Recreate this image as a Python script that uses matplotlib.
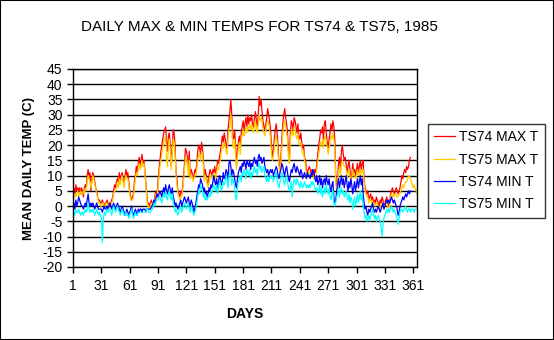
import numpy as np
import matplotlib
matplotlib.use('Agg')
import matplotlib.pyplot as plt
from matplotlib.patches import Rectangle

plt.rcParams['font.family'] = ['Liberation Sans', 'DejaVu Sans']
plt.rcParams['axes.unicode_minus'] = False

# Daily values (deg C)
ts74_max = [
    5, 6, 4, 7, 5, 6, 5, 6, 4, 6,
    5, 3, 6, 7, 6, 10, 12, 9, 11, 5,
    9, 11, 10, 8, 6, 5, 3, 2, 2, 1,
    1, 2, 1, 0, 1, 1, 2, 1, 0, 1,
    1, 2, 3, 5, 7, 6, 8, 9, 7, 11,
    8, 10, 11, 9, 7, 10, 12, 10, 11, 8,
    5, 3, 2, 3, 4, 8, 10, 13, 11, 14,
    16, 13, 15, 17, 14, 15, 12, 8, 4, 1,
    1, 0, 1, 2, 0, 1, 2, 4, 5, 3,
    8, 12, 15, 18, 20, 22, 24, 25, 26, 21,
    18, 23, 24, 20, 13, 19, 25, 24, 20, 11,
    9, 5, 4, 3, 5, 4, 6, 10, 14, 19,
    18, 16, 12, 18, 10, 12, 11, 9, 10, 12,
    11, 14, 18, 20, 19, 17, 21, 19, 15, 9,
    12, 10, 8, 7, 10, 12, 11, 10, 12, 11,
    13, 10, 12, 15, 14, 16, 18, 20, 23, 21,
    24, 22, 20, 19, 25, 28, 31, 35, 30, 23,
    22, 25, 20, 13, 18, 21, 23, 19, 24, 26,
    28, 25, 27, 29, 26, 30, 27, 29, 28, 30,
    27, 26, 29, 31, 28, 26, 30, 36, 33, 35,
    31, 28, 26, 25, 27, 29, 32, 30, 28, 25,
    20, 16, 18, 22, 25, 27, 24, 19, 14, 12,
    16, 22, 27, 30, 32, 29, 27, 24, 18, 15,
    24, 28, 27, 25, 29, 28, 26, 24, 27, 23,
    22, 24, 21, 19, 20, 16, 15, 12, 11, 12,
    13, 12, 11, 12, 11, 10, 12, 11, 14, 17,
    20, 22, 25, 24, 26, 22, 27, 28, 24, 21,
    19, 22, 24, 27, 25, 28, 26, 22, 10, 6,
    8, 14, 16, 12, 18, 20, 17, 15, 16, 14,
    11, 13, 15, 12, 9, 10, 14, 11, 12, 10,
    12, 14, 11, 13, 15, 12, 14, 15, 9, 6,
    5, 4, 5, 2, 3, 4, 2, 3, 1, 2,
    1, 3, 2, 1, 0, 2, 1, 3, 2, 0,
    1, 2, 3, 1, 0, 1, 4, 5, 6, 5,
    4, 5, 6, 5, 4, 5, 6, 8, 10, 9,
    11, 12, 11, 13, 12, 13, 15, 16,
]

ts75_max = [
    2, 3, 4, 3, 4, 5, 3, 4, 5, 4,
    4, 5, 4, 6, 5, 8, 10, 9, 8, 6,
    8, 10, 9, 7, 6, 4, 3, 1, 1, 0,
    0, 1, 1, 0, 0, 1, 1, 0, 0, 1,
    0, 1, 2, 4, 5, 5, 6, 8, 6, 9,
    7, 9, 10, 8, 6, 9, 10, 9, 9, 7,
    4, 2, 2, 2, 3, 6, 9, 11, 10, 12,
    14, 12, 13, 15, 13, 14, 11, 7, 3, 0,
    0, -1, 0, 1, 0, 0, 1, 3, 4, 3,
    6, 10, 13, 15, 17, 19, 21, 22, 23, 15,
    13, 20, 22, 18, 12, 17, 22, 21, 17, 10,
    7, 4, 3, 2, 3, 3, 5, 8, 12, 16,
    16, 14, 10, 15, 9, 10, 10, 8, 9, 10,
    10, 12, 15, 17, 17, 15, 18, 17, 13, 8,
    10, 9, 7, 6, 8, 10, 10, 9, 10, 10,
    11, 9, 11, 13, 12, 14, 15, 18, 20, 19,
    21, 20, 18, 17, 22, 25, 26, 30, 26, 20,
    19, 22, 17, 12, 16, 19, 21, 17, 22, 23,
    25, 23, 24, 26, 24, 26, 25, 27, 25, 27,
    25, 24, 26, 28, 25, 24, 27, 30, 28, 29,
    28, 25, 24, 23, 25, 27, 28, 27, 25, 22,
    17, 15, 16, 19, 22, 23, 21, 17, 13, 11,
    14, 19, 24, 27, 28, 26, 24, 22, 16, 14,
    21, 25, 24, 23, 26, 25, 23, 22, 24, 21,
    20, 21, 19, 17, 18, 15, 13, 11, 10, 11,
    11, 10, 10, 11, 10, 9, 10, 10, 12, 15,
    17, 19, 21, 20, 22, 19, 22, 23, 21, 19,
    17, 19, 21, 23, 22, 24, 22, 19, 8, 5,
    7, 11, 13, 10, 14, 15, 14, 13, 13, 12,
    9, 11, 12, 10, 8, 9, 12, 10, 10, 9,
    10, 12, 10, 11, 12, 10, 12, 12, 8, 5,
    4, 3, 3, 1, 2, 2, 1, 2, 0, 1,
    0, 1, 1, 0, -1, 0, 0, 1, 1, -1,
    0, 1, 1, 0, -1, 0, 3, 4, 3, 4,
    3, 4, 4, 3, 3, 4, 4, 5, 6, 7,
    6, 7, 8, 8, 9, 10, 10, 9, 8, 7,
    6, 7, 6, 5, 4,
]

ts74_min = [
    0, 1, -1, 2, 0, 1, 3, 2, 1, 0,
    0, -1, 0, 1, 0, 2, 4, 1, 0, 1,
    0, 1, 0, -1, 0, 1, 0, -1, -1, -1,
    -1, -2, -1, 0, -1, -1, 0, -1, 0, 1,
    0, -1, 0, 1, 0, -1, 0, 1, 0, -1,
    -2, -1, 0, -1, -2, -3, -2, -1, -2, -3,
    -2, -1, 0, -2, -3, -2, -1, -2, -3, -1,
    -2, -1, -1, -2, -1, -1, -1, -2, -1, -1,
    -1, -1, -1, 0, 0, 1, 2, 1, 3, 4,
    3, 4, 5, 4, 3, 5, 6, 4, 7, 5,
    4, 6, 7, 5, 4, 6, 3, 2, 0, 1,
    0, -1, 0, 1, 2, 0, 1, 2, 3, 2,
    1, 2, 3, 1, 0, 2, 1, 0, -2, -1,
    1, 3, 5, 7, 6, 9, 8, 7, 5, 6,
    4, 5, 3, 4, 6, 5, 7, 6, 8, 10,
    8, 7, 9, 6, 8, 10, 9, 7, 8, 11,
    9, 10, 12, 11, 8, 14, 15, 13, 10, 12,
    11, 9, 7, 6, 9, 11, 12, 13, 11, 14,
    13, 15, 14, 12, 15, 14, 13, 15, 12, 14,
    13, 15, 16, 14, 15, 13, 16, 17, 15, 16,
    14, 15, 16, 13, 12, 11, 12, 10, 11, 12,
    11, 12, 10, 11, 12, 13, 12, 10, 9, 11,
    12, 14, 13, 11, 10, 12, 13, 11, 9, 8,
    10, 12, 11, 13, 14, 12, 11, 13, 12, 11,
    10, 12, 11, 9, 10, 11, 10, 9, 11, 10,
    10, 9, 11, 10, 12, 11, 9, 8, 10, 7,
    8, 10, 7, 9, 6, 8, 9, 7, 10, 8,
    7, 9, 6, 5, 7, 8, 3, 1, 2, 5,
    7, 9, 6, 8, 10, 7, 9, 6, 8, 10,
    7, 5, 8, 6, 9, 7, 4, 6, 8, 5,
    7, 9, 6, 8, 10, 7, 9, 4, 1, -1,
    0, -2, -3, -1, -2, -1, 0, 1, -1, -2,
    -1, -2, -1, 0, -1, -2, -1, 0, 1, -1,
    0, 1, 2, 1, 2, 1, 2, 3, 2, 1,
    2, 1, 0, -1, -3, -2, 0, 1, 2, 3,
    2, 3, 4, 3, 4, 5, 4, 5,
]

ts75_min = [
    -3, -2, -3, -1, -2, -2, -1, -2, -3, -2,
    -2, -3, -2, -1, -2, -1, 1, -1, -2, -1,
    -2, -1, -2, -3, -2, -1, -2, -3, -2, -3,
    -4, -12, -5, -2, -3, -2, -1, -2, -1, -1,
    -2, -3, -1, 0, -1, -2, -1, 0, -1, -2,
    -3, -2, -1, -2, -3, -3, -2, -3, -3, -4,
    -3, -2, -1, -3, -4, -3, -2, -3, -3, -2,
    -2, -2, -2, -2, -2, -2, -2, -2, -1, -1,
    -2, -2, -2, -1, -1, 0, 1, 0, 2, 2,
    2, 3, 3, 2, 1, 3, 4, 3, 5, 3,
    2, 4, 5, 3, 2, 4, 1, 0, -2, -1,
    -2, -3, -2, -1, 0, -2, -1, 0, 1, 0,
    -1, 0, 1, -1, -2, 0, -1, -2, -3, -2,
    -1, 1, 3, 5, 4, 7, 6, 5, 3, 4,
    2, 3, 2, 3, 4, 3, 5, 4, 6, 7,
    6, 5, 7, 4, 6, 8, 7, 5, 6, 8,
    7, 8, 10, 9, 6, 10, 11, 10, 7, 9,
    8, 6, 3, 2, 6, 8, 9, 10, 8, 11,
    10, 12, 11, 9, 12, 11, 10, 12, 9, 11,
    10, 12, 13, 11, 12, 10, 13, 14, 12, 13,
    11, 12, 13, 10, 9, 8, 10, 8, 9, 10,
    9, 10, 8, 9, 10, 11, 9, 7, 6, 8,
    9, 11, 10, 8, 7, 9, 10, 8, 6, 5,
    6, 8, 3, 7, 9, 8, 7, 9, 8, 7,
    6, 8, 7, 6, 7, 8, 7, 6, 7, 6,
    7, 6, 8, 7, 8, 7, 6, 5, 6, 4,
    5, 7, 4, 6, 3, 5, 6, 4, 7, 5,
    4, 6, 3, 2, 4, 5, 1, 0, 1, 3,
    4, 6, 3, 5, 6, 4, 5, 3, 4, 5,
    3, 2, 4, 1, 3, 2, -1, 1, 3, 0,
    2, 4, 1, 3, 5, 2, 4, 0, -2, -4,
    -3, -5, -4, -3, -5, -3, -2, -1, -3, -4,
    -3, -5, -4, -3, -4, -5, -7, -10, -6, -4,
    -3, -2, -1, -2, -1, -2, -1, 0, -1, -2,
    -1, -2, -3, -4, -6, -4, -2, -1, -1, -2,
    -1, -1, 0, -1, -2, -1, -1, -2, -1, -1,
    -1, -2, -1, -1, -1,
]

series = [
    ('TS74 MAX T', ts74_max, '#FF0000'),
    ('TS75 MAX T', ts75_max, '#FFCC00'),
    ('TS74 MIN T', ts74_min, '#0000FF'),
    ('TS75 MIN T', ts75_min, '#00FFFF'),
]
x_ticks = list(range(1, 366, 30))
y_ticks = list(range(-20, 46, 5))

fig = plt.figure(figsize=(5.54, 3.40), dpi=100)
ax = fig.add_axes([73 / 554, 1 - 267 / 340, 344 / 554, 198 / 340])

for name, vals, col in series:
    days = np.arange(1, len(vals) + 1)
    ax.plot(days, vals, color=col, lw=0.9, label=name)

ax.set_xlim(1, 365)
ax.set_ylim(-20, 45)
ax.set_xticks(x_ticks)
ax.set_yticks(y_ticks)
for y in y_ticks:
    ax.axhline(y, color='black', lw=1.0, zorder=0)
for s in ax.spines.values():
    s.set_color('black')
    s.set_linewidth(1.0)
ax.tick_params(direction='out', length=4, width=1, labelsize=10, colors='black')
ax.tick_params(axis='x', pad=5)

ax.set_xlabel('DAYS', fontsize=10, fontweight='bold', labelpad=10)
ax.set_ylabel('MEAN DAILY TEMP (C)', fontsize=9.5, fontweight='bold', labelpad=5)
fig.text(259 / 554, 1 - 27 / 340, 'DAILY MAX & MIN TEMPS FOR TS74 & TS75, 1985',
         ha='center', va='center', fontsize=11)

leg = ax.legend(loc='upper left', bbox_to_anchor=(428 / 554, 1 - 124 / 340),
                bbox_transform=fig.transFigure, fontsize=10, frameon=True,
                fancybox=False, edgecolor='black', handlelength=1.5,
                borderpad=0.45, labelspacing=0.6, handletextpad=0.3,
                borderaxespad=0)
leg.get_frame().set_linewidth(1.0)

fig.patches.append(Rectangle((0, 0), 1, 1, transform=fig.transFigure,
                             fill=False, edgecolor='black', lw=1.5))

fig.savefig('out.png', dpi=100)
